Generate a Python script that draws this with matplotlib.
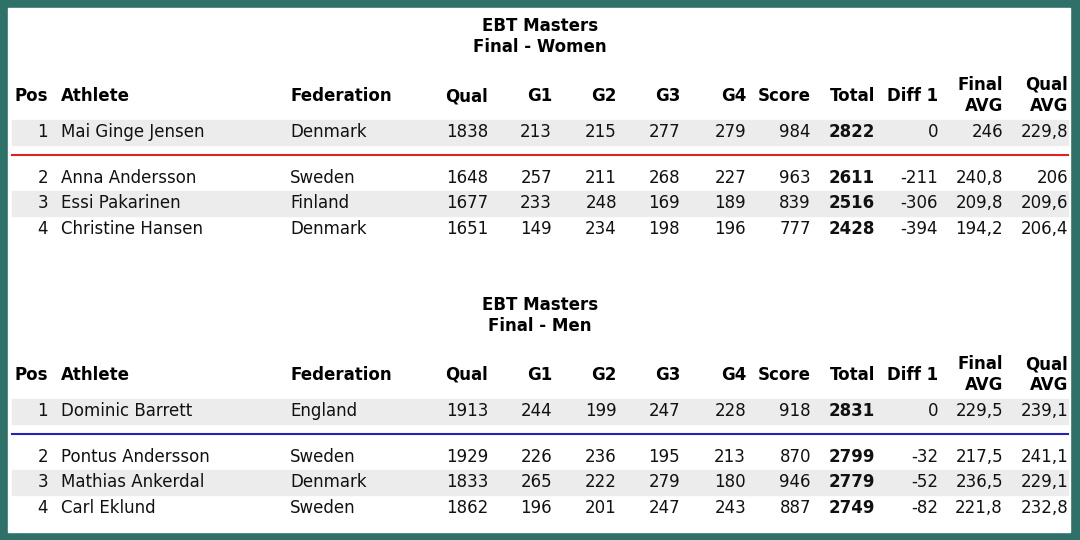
import matplotlib
matplotlib.use("Agg")
import matplotlib.pyplot as plt
from matplotlib.patches import Rectangle

columns = ["Pos", "Athlete", "Federation", "Qual", "G1", "G2", "G3", "G4", "Score", "Total", "Diff 1", "Final\nAVG", "Qual\nAVG"]

women_pos = ["1", "2", "3", "4"]
women_athlete = ["Mai Ginge Jensen", "Anna Andersson", "Essi Pakarinen", "Christine Hansen"]
women_fed = ["Denmark", "Sweden", "Finland", "Denmark"]
women_qual = [1838, 1648, 1677, 1651]
women_g1 = [213, 257, 233, 149]
women_g2 = [215, 211, 248, 234]
women_g3 = [277, 268, 169, 198]
women_g4 = [279, 227, 189, 196]
women_score = [984, 963, 839, 777]
women_total = [2822, 2611, 2516, 2428]
women_diff = [0, -211, -306, -394]
women_favg = ["246", "240,8", "209,8", "194,2"]
women_qavg = ["229,8", "206", "209,6", "206,4"]

men_pos = ["1", "2", "3", "4"]
men_athlete = ["Dominic Barrett", "Pontus Andersson", "Mathias Ankerdal", "Carl Eklund"]
men_fed = ["England", "Sweden", "Denmark", "Sweden"]
men_qual = [1913, 1929, 1833, 1862]
men_g1 = [244, 226, 265, 196]
men_g2 = [199, 236, 222, 201]
men_g3 = [247, 195, 279, 247]
men_g4 = [228, 213, 180, 243]
men_score = [918, 870, 946, 887]
men_total = [2831, 2799, 2779, 2749]
men_diff = [0, -32, -52, -82]
men_favg = ["229,5", "217,5", "236,5", "221,8"]
men_qavg = ["239,1", "241,1", "229,1", "232,8"]

fig = plt.figure(figsize=(10.8, 5.4), dpi=100)
fig.patch.set_facecolor("#2f7169")
ax = fig.add_axes([0, 0, 1, 1])
ax.set_xlim(0, 1080); ax.set_ylim(540, 0); ax.axis("off")
ax.add_patch(Rectangle((8, 8), 1062, 524, color="white", zorder=0))

FS = 12
FONT = "DejaVu Sans"
# column anchors: (x, ha)
anchors = [(48, "right"), (61, "left"), (290, "left"), (488, "right"), (552, "right"), (617, "right"),
           (680, "right"), (746, "right"), (811, "right"), (875, "right"), (938, "right"), (1003, "right"), (1068, "right")]

def block(y0, title2, pos, ath, fed, qual, g1, g2, g3, g4, score, total, diff, favg, qavg, linecolor):
    ax.text(540, y0, "EBT Masters", ha="center", va="center", fontsize=FS, fontweight="bold", family=FONT)
    ax.text(540, y0 + 21, title2, ha="center", va="center", fontsize=FS, fontweight="bold", family=FONT)
    hy = y0 + 70
    for (x, ha), c in zip(anchors, columns):
        if "\n" in c:
            a, b = c.split("\n")
            ax.text(x, hy - 11, a, ha=ha, va="center", fontsize=FS, fontweight="bold", family=FONT)
            ax.text(x, hy + 10, b, ha=ha, va="center", fontsize=FS, fontweight="bold", family=FONT)
        else:
            ax.text(x, hy, c, ha=ha, va="center", fontsize=FS, fontweight="bold", family=FONT)
    rows_y = [y0 + 106, y0 + 152, y0 + 177, y0 + 203]
    for i, ry in enumerate(rows_y):
        if i in (0, 2):
            ax.add_patch(Rectangle((12, ry - 12.5), 1056, 25, color="#ececec", zorder=0.5))
        vals = [pos[i], ath[i], fed[i], qual[i], g1[i], g2[i], g3[i], g4[i], score[i], total[i], diff[i], favg[i], qavg[i]]
        for j, ((x, ha), v) in enumerate(zip(anchors, vals)):
            ax.text(x, ry, str(v), ha=ha, va="center", fontsize=FS, family=FONT,
                    fontweight="bold" if j == 9 else "normal", color="#111111")
    ax.plot([12, 1068], [y0 + 129, y0 + 129], color=linecolor, lw=1.5)

block(26, "Final - Women", women_pos, women_athlete, women_fed, women_qual, women_g1, women_g2, women_g3,
      women_g4, women_score, women_total, women_diff, women_favg, women_qavg, "#dd2222")
block(305, "Final - Men", men_pos, men_athlete, men_fed, men_qual, men_g1, men_g2, men_g3,
      men_g4, men_score, men_total, men_diff, men_favg, men_qavg, "#2222bb")

fig.savefig("out.png", dpi=100, facecolor=fig.get_facecolor())
